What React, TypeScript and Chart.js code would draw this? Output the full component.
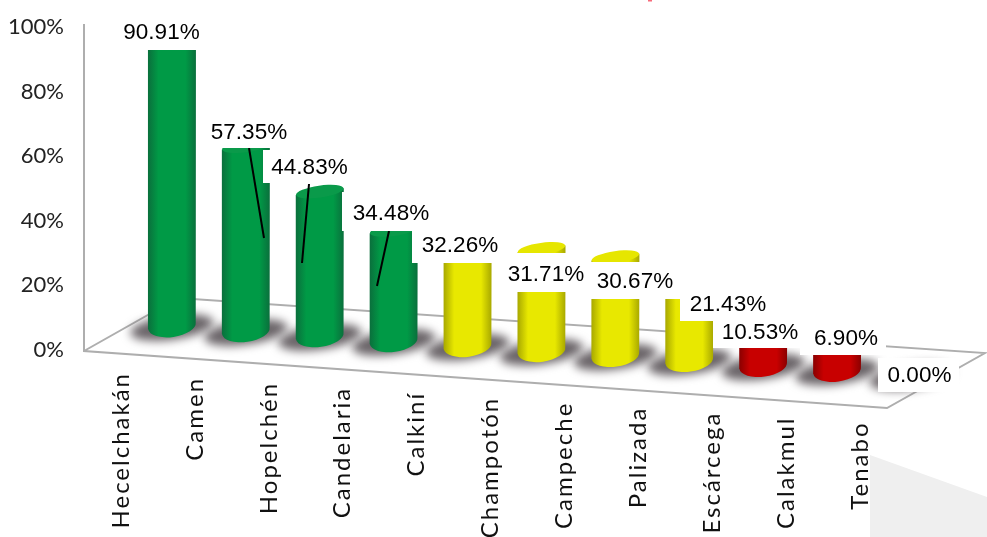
import React, { useEffect, useRef } from "react";
import { Chart, registerables } from "chart.js";

Chart.register(...registerables);

const categories = ["Hecelchakán", "Camen", "Hopelchén", "Candelaria", "Calkiní", "Champotón", "Campeche", "Palizada", "Escárcega", "Calakmul", "Tenabo"];
const percentages = [90.91, 57.35, 44.83, 34.48, 32.26, 31.71, 30.67, 21.43, 10.53, 6.9, 0];
const bands = ["green", "green", "green", "green", "yellow", "yellow", "yellow", "yellow", "red", "red", "red"];

const W = 987;
const H = 537;
const SANS = '"Liberation Sans", Arial, sans-serif';
const GEO = 'Lato, "Noto Sans", sans-serif';

const palette: Record<string, { edge: string; mid: string; top: string }> = {
  green: { edge: "#0a6f3c", mid: "#009a46", top: "#0a9a4a" },
  yellow: { edge: "#a8a800", mid: "#e8e800", top: "#e6e600" },
  red: { edge: "#8a0000", mid: "#c80000", top: "#c00000" },
};

// perspective of the floor: each bar stands further down the sloping floor
const shiftOf = (i: number) => -23.5 + 4.95 * i;
const TILT = (-8 * Math.PI) / 180;

// label boxes: [text centre x, text centre y, box x, box y, box w, box h]
const labelBoxes: number[][] = [
  [161.5, 33, 118, 17, 88, 33],
  [249, 133, 207, 117, 85, 31],
  [309.5, 168, 263, 150, 89, 33],
  [391, 214, 342, 192, 90, 39],
  [460, 246, 412, 231, 91, 32],
  [546, 275, 500, 253, 90, 39],
  [635, 282, 590, 262, 90, 37],
  [728, 305, 680, 278, 95, 43],
  [760, 333, 713, 312, 87, 36],
  [846, 339, 800, 318, 86, 37],
  [919.5, 376, 878, 358, 81, 34],
];
const leaderLines: number[][] = [
  [249, 148, 264, 238],
  [309, 184, 302, 263],
  [389, 231, 377, 286],
];

const scene = {
  id: "scene",
  beforeDatasetsDraw(chart: any) {
    const ctx = chart.ctx;
    const meta = chart.getDatasetMeta(0);
    ctx.save();
    // pale shape in the lower right corner
    ctx.fillStyle = "#efefef";
    ctx.beginPath();
    ctx.moveTo(870, 455);
    ctx.lineTo(W, 497);
    ctx.lineTo(W, H);
    ctx.lineTo(870, H);
    ctx.closePath();
    ctx.fill();
    ctx.fillStyle = "#f76a7a";
    ctx.fillRect(648, 0, 4, 1.5);
    // wall and floor outline
    ctx.strokeStyle = "#aeaeae";
    ctx.lineWidth = 2;
    ctx.beginPath();
    ctx.moveTo(84, 24);
    ctx.lineTo(84, 351);
    ctx.lineTo(887, 408);
    ctx.lineTo(985, 353);
    ctx.lineTo(178, 298);
    ctx.lineTo(84, 351);
    ctx.stroke();
    // shadows
    ctx.filter = "blur(5px)";
    ctx.fillStyle = "#6a6468";
    meta.data.forEach((bar: any, i: number) => {
      ctx.beginPath();
      ctx.ellipse(bar.x, chart.scales.y.getPixelForValue(0) + shiftOf(i) + 1, 42, 12, TILT, 0, Math.PI * 2);
      ctx.fill();
    });
    ctx.restore();
  },
  beforeDatasetDraw(chart: any) {
    const ctx = chart.ctx;
    const meta = chart.getDatasetMeta(0);
    meta.data.forEach((bar: any, i: number) => {
      if (percentages[i] <= 0) return;
      const colors = palette[bands[i]];
      const r = bar.width / 2;
      const topY = bar.y + shiftOf(i);
      const baseY = bar.base + shiftOf(i);
      const dy = Math.sin(TILT) * r;
      const grad = ctx.createLinearGradient(bar.x - r, 0, bar.x + r, 0);
      grad.addColorStop(0, colors.edge);
      grad.addColorStop(0.22, colors.mid);
      grad.addColorStop(0.78, colors.mid);
      grad.addColorStop(1, colors.edge);
      ctx.save();
      ctx.fillStyle = grad;
      ctx.beginPath();
      ctx.moveTo(bar.x - r, topY - dy);
      ctx.lineTo(bar.x - r, baseY - dy);
      ctx.ellipse(bar.x, baseY, r, 11, TILT, Math.PI, 0, true);
      ctx.lineTo(bar.x + r, topY + dy);
      ctx.closePath();
      ctx.fill();
      ctx.fillStyle = colors.top;
      ctx.beginPath();
      ctx.ellipse(bar.x, topY, r, 6, TILT, 0, Math.PI * 2);
      ctx.fill();
      ctx.restore();
    });
    return false;
  },
  afterDatasetsDraw(chart: any) {
    const ctx = chart.ctx;
    const meta = chart.getDatasetMeta(0);
    ctx.save();
    // leader lines
    ctx.strokeStyle = "#000";
    ctx.lineWidth = 2;
    leaderLines.forEach(([a, b, c, d]) => {
      ctx.beginPath();
      ctx.moveTo(a, b);
      ctx.lineTo(c, d);
      ctx.stroke();
    });
    // value labels on white boxes, later ones hide earlier ones
    ctx.font = `22.5px ${SANS}`;
    ctx.textAlign = "center";
    ctx.textBaseline = "middle";
    percentages.forEach((v, i) => {
      const [tx, ty, bx, by, bw, bh] = labelBoxes[i];
      ctx.fillStyle = "#fff";
      ctx.fillRect(bx, by, bw, bh);
      if (i === 8) ctx.fillRect(680, 312, 33, 9);
      ctx.fillStyle = "#000";
      ctx.fillText(`${v.toFixed(2)}%`, tx, ty);
    });
    // category names, stepping down along the floor edge
    ctx.font = `24px ${GEO}`;
    ctx.textAlign = "right";
    ctx.textBaseline = "middle";
    ctx.fillStyle = "#111";
    (ctx as any).letterSpacing = "2px";
    meta.data.forEach((bar: any, i: number) => {
      ctx.save();
      ctx.translate(bar.x - 51, 372 + 4.95 * i);
      ctx.rotate(-Math.PI / 2);
      ctx.fillText(categories[i], 0, 0);
      ctx.restore();
    });
    ctx.restore();
  },
};

export default function App() {
  const ref = useRef<HTMLCanvasElement>(null);
  useEffect(() => {
    const chart = new Chart(ref.current!, {
      type: "bar",
      data: {
        labels: categories,
        datasets: [{ data: percentages, barThickness: 48, backgroundColor: bands.map((b) => palette[b].mid) }],
      },
      options: {
        animation: false,
        responsive: false,
        devicePixelRatio: 1,
        layout: { padding: { top: 27, right: 39, left: 0, bottom: 0 } },
        plugins: { legend: { display: false }, tooltip: { enabled: false } },
        scales: {
          x: {
            grid: { display: false },
            border: { display: false },
            ticks: { display: false },
            afterFit(s: any) {
              s.height = 187;
            },
          },
          y: {
            min: 0,
            max: 100,
            grid: { display: true, drawOnChartArea: false, tickLength: 71, tickColor: "rgba(0,0,0,0)" },
            border: { display: false },
            afterFit(s: any) {
              s.width = 135;
            },
            ticks: {
              stepSize: 20,
              padding: 0,
              color: "#222",
              font: { family: GEO, size: 22 },
              callback: (v: any) => `${v}%`,
            },
          },
        },
      },
      plugins: [scene],
    } as any);
    return () => chart.destroy();
  }, []);
  return <canvas ref={ref} width={W} height={H} style={{ position: "fixed", left: 0, top: 0, width: W, height: H, background: "#fff" }} />;
}
